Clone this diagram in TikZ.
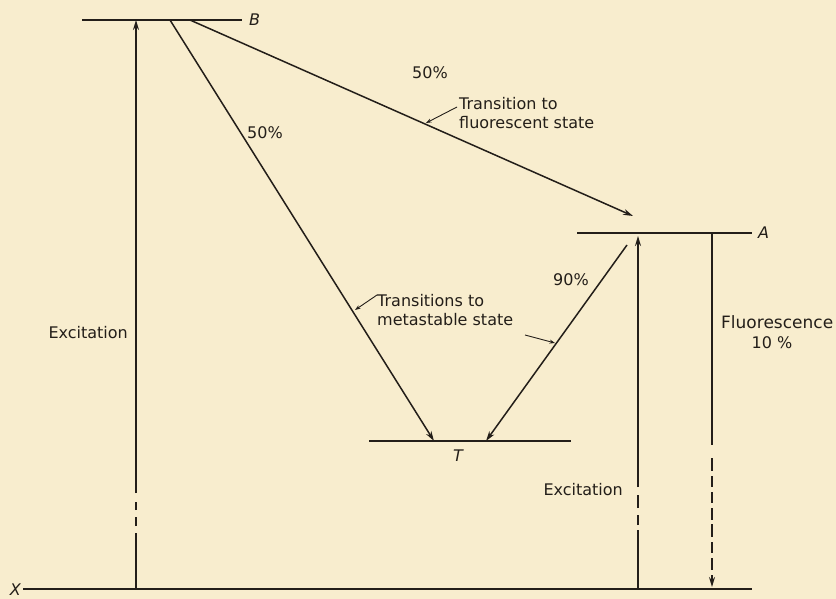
\documentclass[tikz,border=0pt]{standalone}
\usepackage{fontspec}
\setmainfont{DejaVu Sans}
\usetikzlibrary{arrows.meta}
\definecolor{paper}{RGB}{248,237,206}
\definecolor{ink}{RGB}{35,30,25}
\begin{document}
\begin{tikzpicture}[x=1pt,y=-1pt,
  level/.style={draw=ink, line width=1.6pt},
  trans/.style={draw=ink, line width=1.5pt, -{Stealth[length=10pt,width=6pt]}},
  leader/.style={draw=ink, line width=0.9pt, -{Stealth[length=5.5pt,width=4pt]}},
  lbl/.style={text=ink, font=\fontsize{16}{19}\selectfont, inner sep=0pt},
  statelbl/.style={text=ink, font=\fontsize{16}{19}\selectfont\itshape, inner sep=0pt}]
\fill[paper] (0,0) rectangle (836,599);
\useasboundingbox (0,0) rectangle (836,599);
% levels
\coordinate (B1) at (82,20);  \coordinate (B2) at (242,20);
\coordinate (A1) at (577,233); \coordinate (A2) at (752,233);
\coordinate (T1) at (369,441); \coordinate (T2) at (571,441);
\coordinate (X1) at (23,589);  \coordinate (X2) at (752,589);
\draw[level] (B1) -- (B2);
\draw[level] (A1) -- (A2);
\draw[level] (T1) -- (T2);
\draw[level] (X1) -- (X2);
\node[statelbl, anchor=west] (Blab) at (249,20) {B};
\node[statelbl, anchor=west] (Alab) at (758,233) {A};
\node[statelbl] (Tlab) at (458,456) {T};
\node[statelbl, anchor=east] (Xlab) at (21,590) {X};
% excitation arrows
\coordinate (exL0) at (136,589); \coordinate (exL1) at (136,20);
\draw[trans, dash pattern=on 56pt off 7pt on 9pt off 7pt on 8pt off 9pt on 700pt off 0pt] (exL0) -- (exL1);
\coordinate (exR0) at (638,589); \coordinate (exR1) at (638,236);
\draw[trans, dash pattern=on 59pt off 5pt on 10pt off 7pt on 13pt off 8pt on 700pt off 0pt] (exR0) -- (exR1);
% fluorescence
\coordinate (fl0) at (712,233); \coordinate (fl1) at (712,587);
\draw[trans, dash pattern=on 212pt off 13pt on 13pt off 5pt on 11pt off 5pt on 11pt off 5pt on 12pt off 4pt on 13pt off 5pt on 11pt off 5pt on 12pt off 5pt on 60pt off 0pt] (fl0) -- (fl1);
% transitions
\coordinate (bA) at (190,20); \coordinate (aTip) at (633,216);
\draw[trans] (bA) -- (aTip);
\coordinate (bT) at (170,20); \coordinate (tTipL) at (434,441);
\draw[trans] (bT) -- (tTipL);
\coordinate (aT) at (627,245); \coordinate (tTipR) at (486,441);
\draw[trans] (aT) -- (tTipR);
% labels
\node[lbl] (p50a) at (430,73) {50\%};
\node[lbl] (p50b) at (265,133) {50\%};
\node[lbl] (p90) at (571,280) {90\%};
\node[lbl, anchor=east] (excL) at (128,333) {Excitation};
\node[lbl, anchor=east] (excR) at (623,490) {Excitation};
\node[lbl, anchor=west, font=\fontsize{17}{19}\selectfont] (fluo) at (721,322) {Fluorescence};
\node[lbl] (fluo10) at (772,343) {10 \%};
\node[lbl, anchor=west, align=left] (tfs) at (459,113) {Transition to\\fluorescent state};
\node[lbl, anchor=west, align=left] (tms) at (377,310) {Transitions to\\metastable state};
% leaders
\coordinate (l1a) at (457,107); \coordinate (l1b) at (426,123);
\draw[leader] (l1a) -- (l1b);
\coordinate (l2a) at (377,295); \coordinate (l2b) at (355,310);
\draw[leader] (l2a) -- (l2b);
\coordinate (l3a) at (525,335); \coordinate (l3b) at (555,343);
\draw[leader] (l3a) -- (l3b);
\end{tikzpicture}
\end{document}
